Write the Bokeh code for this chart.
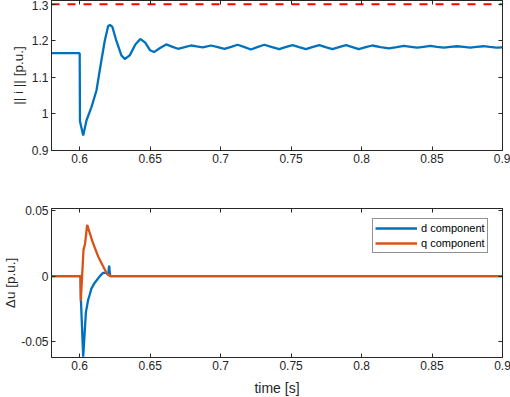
from bokeh.plotting import figure
from bokeh.layouts import column
from bokeh.models import (ColumnDataSource, FixedTicker, LinearAxis, Range1d,
                          Legend, LegendItem, CustomJSTickFormatter)
from bokeh.embed import file_html
from bokeh.resources import INLINE

# ---------------- data ----------------
current_t = [0.58, 0.6, 0.6002, 0.6025, 0.6048, 0.6083, 0.6119, 0.6154, 0.6178,
             0.6202, 0.6215, 0.6232, 0.626, 0.6296, 0.632, 0.6355, 0.6395, 0.643,
             0.6465, 0.650, 0.6527, 0.657, 0.6614, 0.6655, 0.6697, 0.6745, 0.679,
             0.683, 0.6873, 0.6932, 0.698, 0.7027, 0.7075, 0.712, 0.717, 0.7215,
             0.726, 0.731, 0.7365, 0.7416, 0.746, 0.751, 0.7557, 0.7605, 0.765,
             0.770, 0.7745, 0.7793, 0.784, 0.789, 0.7935, 0.798, 0.803, 0.8076,
             0.8135, 0.8194, 0.825, 0.830, 0.835, 0.8394, 0.844, 0.8488, 0.8535,
             0.8583, 0.863, 0.8677, 0.8725, 0.877, 0.8815, 0.8865, 0.891, 0.8958, 0.9]
current_mag = [1.166, 1.166, 0.980, 0.941, 0.982, 1.018, 1.064, 1.146, 1.200,
               1.240, 1.243, 1.238, 1.200, 1.160, 1.150, 1.160, 1.190, 1.205,
               1.195, 1.174, 1.169, 1.180, 1.190, 1.184, 1.178, 1.1825, 1.187,
               1.1845, 1.182, 1.187, 1.1825, 1.178, 1.1835, 1.189, 1.1825, 1.176,
               1.1825, 1.189, 1.1825, 1.177, 1.1825, 1.188, 1.1825, 1.177, 1.1825,
               1.188, 1.1825, 1.177, 1.1825, 1.188, 1.1825, 1.177, 1.1825, 1.187,
               1.1825, 1.179, 1.1825, 1.186, 1.1835, 1.181, 1.1835, 1.186, 1.1835,
               1.181, 1.1835, 1.185, 1.183, 1.181, 1.183, 1.185, 1.183, 1.181, 1.182]
limit_t = [0.58, 0.9]
limit_mag = [1.3, 1.3]

du_d_t = [0.58, 0.6006, 0.6009, 0.6025, 0.6044, 0.606, 0.6072, 0.6083, 0.6107,
          0.6143, 0.6166, 0.619, 0.6202, 0.6209, 0.6216, 0.6225, 0.9]
du_d = [0.0, 0.0, -0.0188, -0.0614, -0.0276, -0.018, -0.0138, -0.0095, -0.005,
        0.0, 0.0025, 0.0025, 0.0008, 0.008, 0.0, 0.0, 0.0]
du_q_t = [0.58, 0.6006, 0.6008, 0.6027, 0.6038, 0.6053, 0.6095, 0.6131, 0.6166,
          0.619, 0.6214, 0.9]
du_q = [0.0, 0.0, -0.0188, 0.020, 0.0245, 0.039, 0.025, 0.015, 0.0075,
        0.0025, 0.0, 0.0]

x_ticks = [0.6, 0.65, 0.7, 0.75, 0.8, 0.85, 0.9]
x_tick_labels = ["0.6", "0.65", "0.7", "0.75", "0.8", "0.85", "0.9"]
top_y_ticks = [0.9, 1.0, 1.1, 1.2, 1.3]
top_y_tick_labels = ["0.9", "1", "1.1", "1.2", "1.3"]
bot_y_ticks = [-0.05, 0.0, 0.05]
bot_y_tick_labels = ["-0.05", "0", "0.05"]

# ---------------- style ----------------
FONT = "Liberation Sans"
AX = "#262626"
BLUE = "#0072BD"
ORANGE = "#D95319"
LW = 2.3


def fmt(ticks, labels):
    return CustomJSTickFormatter(args=dict(tv=ticks, tl=labels), code="""
        for (let i = 0; i < tv.length; i++) {
            if (Math.abs(tick - tv[i]) < 1e-9) return tl[i];
        }
        return '';
    """)


def style_axis(ax, ticks, labels, label_size="13.5px", label_standoff=0):
    ax.ticker = FixedTicker(ticks=ticks)
    ax.formatter = fmt(ticks, labels)
    ax.axis_line_color = AX
    ax.major_tick_line_color = AX
    ax.major_tick_in = 4
    ax.major_tick_out = 0
    ax.minor_tick_line_color = None
    ax.major_label_text_font = FONT
    ax.major_label_text_font_size = "12px"
    ax.major_label_text_color = AX
    ax.major_label_standoff = 3
    ax.axis_label_text_font = FONT
    ax.axis_label_text_font_size = label_size
    ax.axis_label_text_font_style = "normal"
    ax.axis_label_text_color = AX
    ax.axis_label_standoff = label_standoff


def blank_axis(ticks):
    ax = LinearAxis(ticker=FixedTicker(ticks=ticks),
                    formatter=CustomJSTickFormatter(code="return '';"))
    ax.axis_line_color = AX
    ax.major_tick_line_color = AX
    ax.major_tick_in = 4
    ax.major_tick_out = 0
    ax.minor_tick_line_color = None
    ax.major_label_text_font_size = "0px"
    ax.major_label_standoff = 0
    return ax


def make_fig(frame_h, yr, border_top, border_bottom):
    p = figure(frame_width=451, frame_height=frame_h, output_backend="svg",
               toolbar_location=None,
               x_range=Range1d(0.58, 0.9), y_range=yr,
               min_border_left=48, min_border_right=11,
               min_border_top=border_top, min_border_bottom=border_bottom)
    p.grid.visible = False
    p.outline_line_color = AX
    p.outline_line_width = 1
    p.background_fill_color = "white"
    p.border_fill_color = "white"
    return p


# ---------------- top panel ----------------
p1 = make_fig(150, Range1d(0.9, 1.31), 0, 35)
src_i = ColumnDataSource(dict(t=current_t, v=current_mag))
p1.line("t", "v", source=src_i, line_color=BLUE, line_width=LW)
src_lim = ColumnDataSource(dict(t=limit_t, v=limit_mag))
p1.line("t", "v", source=src_lim, line_color="#FF0000", line_width=2, line_dash="8 8")
style_axis(p1.xaxis[0], x_ticks, x_tick_labels)
style_axis(p1.yaxis[0], top_y_ticks, top_y_tick_labels, label_standoff=3)
p1.yaxis[0].axis_label = "|| i || [p.u.]"
p1.add_layout(blank_axis(x_ticks), "above")
p1.add_layout(blank_axis(top_y_ticks), "right")

# ---------------- bottom panel ----------------
p2 = make_fig(149, Range1d(-0.062, 0.0515), 23, 40)
src_d = ColumnDataSource(dict(t=du_d_t, v=du_d))
src_q = ColumnDataSource(dict(t=du_q_t, v=du_q))
rd = p2.line("t", "v", source=src_d, line_color=BLUE, line_width=LW)
rq = p2.line("t", "v", source=src_q, line_color=ORANGE, line_width=LW)
style_axis(p2.xaxis[0], x_ticks, x_tick_labels, label_size="14px", label_standoff=7)
style_axis(p2.yaxis[0], bot_y_ticks, bot_y_tick_labels)
p2.xaxis[0].axis_label = "time [s]"
p2.yaxis[0].axis_label = "\u0394u [p.u.]"
p2.add_layout(blank_axis(x_ticks), "above")
p2.add_layout(blank_axis(bot_y_ticks), "right")

legend = Legend(items=[LegendItem(label="d component", renderers=[rd]),
                       LegendItem(label="q component", renderers=[rq])],
                location=(321, 104), orientation="vertical")
legend.label_text_font = FONT
legend.label_text_font_size = "11px"
legend.label_text_color = "#000000"
legend.glyph_width = 42
legend.glyph_height = 14
legend.label_height = 14
legend.label_standoff = 4
legend.padding = 2
legend.spacing = 1
legend.margin = 0
legend.border_line_color = AX
legend.border_line_width = 1
legend.background_fill_color = "white"
legend.background_fill_alpha = 1
p2.add_layout(legend, "center")

layout = column(p1, p2, margin=0, spacing=0)

open("out.html", "w").write(file_html(layout, INLINE))
